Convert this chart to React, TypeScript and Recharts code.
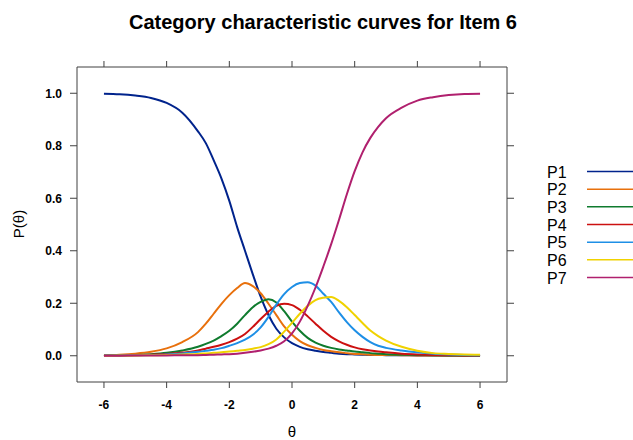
import React from 'react';
import { LineChart, Line, XAxis, YAxis } from 'recharts';

const theta = [-6, -5.5, -5, -4.5, -4, -3.5, -3, -2.75, -2.5, -2.25, -2, -1.75, -1.5, -1.25, -1, -0.75, -0.5, -0.25, 0, 0.25, 0.5, 0.75, 1, 1.25, 1.5, 1.75, 2, 2.25, 2.5, 2.75, 3, 3.5, 4, 4.5, 5, 5.5, 6];

const p1 = [0.998, 0.996, 0.991, 0.982, 0.963, 0.926, 0.855, 0.81, 0.745, 0.675, 0.59, 0.49, 0.4, 0.31, 0.225, 0.155, 0.103, 0.07, 0.048, 0.034, 0.025, 0.019, 0.014, 0.011, 0.008, 0.006, 0.005, 0.004, 0.003, 0.003, 0.002, 0.002, 0.001, 0.001, 0.001, 0, 0];
const p2 = [0.002, 0.004, 0.008, 0.015, 0.028, 0.052, 0.09, 0.122, 0.16, 0.198, 0.231, 0.258, 0.277, 0.265, 0.238, 0.198, 0.155, 0.112, 0.08, 0.056, 0.04, 0.03, 0.022, 0.017, 0.013, 0.01, 0.007, 0.006, 0.004, 0.003, 0.003, 0.002, 0.001, 0.001, 0.001, 0.001, 0.001];
const p3 = [0.001, 0.002, 0.003, 0.006, 0.011, 0.02, 0.034, 0.045, 0.058, 0.075, 0.095, 0.122, 0.155, 0.185, 0.205, 0.215, 0.203, 0.17, 0.13, 0.095, 0.068, 0.05, 0.038, 0.03, 0.024, 0.02, 0.016, 0.013, 0.01, 0.008, 0.006, 0.004, 0.003, 0.002, 0.001, 0.001, 0.001];
const p4 = [0.001, 0.001, 0.002, 0.004, 0.007, 0.012, 0.02, 0.027, 0.034, 0.042, 0.052, 0.065, 0.083, 0.11, 0.14, 0.168, 0.19, 0.198, 0.193, 0.175, 0.15, 0.122, 0.095, 0.072, 0.055, 0.042, 0.032, 0.025, 0.02, 0.016, 0.013, 0.008, 0.005, 0.003, 0.002, 0.001, 0.001];
const p5 = [0.001, 0.001, 0.002, 0.003, 0.005, 0.009, 0.015, 0.019, 0.023, 0.029, 0.038, 0.048, 0.061, 0.08, 0.108, 0.148, 0.195, 0.235, 0.262, 0.277, 0.28, 0.267, 0.236, 0.205, 0.165, 0.128, 0.097, 0.072, 0.052, 0.038, 0.03, 0.02, 0.013, 0.008, 0.005, 0.003, 0.002];
const p6 = [0, 0.001, 0.001, 0.002, 0.003, 0.005, 0.007, 0.009, 0.011, 0.013, 0.016, 0.019, 0.022, 0.027, 0.033, 0.044, 0.062, 0.092, 0.125, 0.16, 0.19, 0.212, 0.221, 0.224, 0.209, 0.185, 0.155, 0.125, 0.096, 0.075, 0.058, 0.034, 0.019, 0.01, 0.007, 0.005, 0.004];
const p7 = [0, 0, 0.001, 0.001, 0.001, 0.002, 0.002, 0.003, 0.004, 0.005, 0.006, 0.008, 0.011, 0.015, 0.02, 0.027, 0.038, 0.055, 0.085, 0.13, 0.19, 0.26, 0.34, 0.425, 0.518, 0.615, 0.703, 0.775, 0.83, 0.872, 0.905, 0.945, 0.972, 0.985, 0.993, 0.997, 0.998];

const seriesNames = ['P1', 'P2', 'P3', 'P4', 'P5', 'P6', 'P7'];
const seriesValues = [p1, p2, p3, p4, p5, p6, p7];
const seriesColors = ['#00238c', '#e8700c', '#0f7b2e', '#cc1010', '#1e8fe6', '#f0d200', '#b0206e'];

const xTicks = [-6, -4, -2, 0, 2, 4, 6];
const yTicks = [0, 0.2, 0.4, 0.6, 0.8, 1.0];

const titleText = 'Category characteristic curves for Item 6';
const xLabel = 'θ';
const yLabel = 'P(θ)';

const data = theta.map((t, i) => {
  const row: Record<string, number> = { theta: t };
  seriesNames.forEach((n, k) => {
    row[n] = seriesValues[k][i];
  });
  return row;
});

const FONT = '"Liberation Sans", Arial, Helvetica, sans-serif';
const FRAME = '#404040';

const EmptyTick = () => <g />;

export default function App() {
  return (
    <div style={{ position: 'absolute', left: 0, top: 0, width: 633, height: 440, background: '#fff', fontFamily: FONT }}>
      <LineChart
        width={633}
        height={440}
        data={data}
        margin={{ top: 61, right: 118, bottom: 18, left: 0 }}
      >
        <XAxis
          xAxisId="b"
          dataKey="theta"
          type="number"
          domain={[-6.86, 6.86]}
          allowDataOverflow
          ticks={xTicks}
          height={40}
          tickSize={6}
          tickMargin={12}
          stroke={FRAME}
          tick={{ fill: '#000', fontSize: 12, fontWeight: 'bold', fontFamily: FONT }}
          tickLine={{ stroke: FRAME }}
          axisLine={{ stroke: FRAME }}
        />
        <XAxis
          xAxisId="t"
          orientation="top"
          dataKey="theta"
          type="number"
          domain={[-6.86, 6.86]}
          allowDataOverflow
          ticks={xTicks}
          height={6}
          tickSize={6}
          stroke={FRAME}
          tick={EmptyTick}
          tickLine={{ stroke: FRAME }}
          axisLine={{ stroke: FRAME }}
        />
        <YAxis
          yAxisId="l"
          type="number"
          domain={[-0.1, 1.1]}
          allowDataOverflow
          ticks={yTicks}
          width={77}
          tickSize={7}
          tickMargin={8}
          tickFormatter={(v: number) => v.toFixed(1)}
          stroke={FRAME}
          tick={{ fill: '#000', fontSize: 12, fontWeight: 'bold', fontFamily: FONT }}
          tickLine={{ stroke: FRAME }}
          axisLine={{ stroke: FRAME }}
        />
        <YAxis
          yAxisId="r"
          orientation="right"
          type="number"
          domain={[-0.1, 1.1]}
          allowDataOverflow
          ticks={yTicks}
          width={8}
          tickSize={7}
          stroke={FRAME}
          tick={EmptyTick}
          tickLine={{ stroke: FRAME }}
          axisLine={{ stroke: FRAME }}
        />
        {seriesNames.map((n, k) => (
          <Line
            key={n}
            xAxisId="b"
            yAxisId="l"
            type="monotone"
            dataKey={n}
            stroke={seriesColors[k]}
            strokeWidth={2}
            dot={false}
            activeDot={false}
            isAnimationActive={false}
          />
        ))}
      </LineChart>
      <svg
        width={633}
        height={440}
        style={{ position: 'absolute', left: 0, top: 0, pointerEvents: 'none' }}
      >
        <text x={323} y={29} textAnchor="middle" fontFamily={FONT} fontWeight="bold" fontSize={20} fill="#000">
          {titleText}
        </text>
        <text x={292} y={437} textAnchor="middle" fontFamily={FONT} fontSize={15} fill="#000">
          {xLabel}
        </text>
        <text
          x={19}
          y={224}
          dy={5}
          textAnchor="middle"
          transform="rotate(-90 19 224)"
          fontFamily={FONT}
          fontSize={15}
          fill="#000"
        >
          {yLabel}
        </text>
        {seriesNames.map((n, k) => (
          <g key={n}>
            <text x={547} y={177.5 + 17.67 * k} fontFamily={FONT} fontSize={16} fill="#000">
              {n}
            </text>
            <line
              x1={587}
              x2={633}
              y1={171.5 + 17.67 * k}
              y2={171.5 + 17.67 * k}
              stroke={seriesColors[k]}
              strokeWidth={1.5}
            />
          </g>
        ))}
      </svg>
    </div>
  );
}
